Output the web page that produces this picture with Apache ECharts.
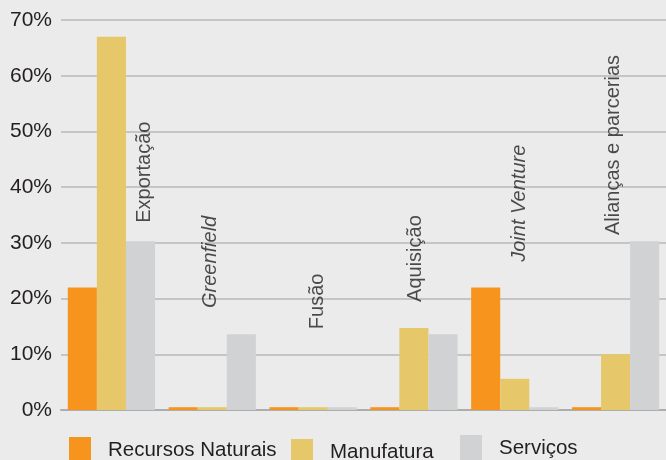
<!DOCTYPE html>
<html>
<head>
<meta charset="utf-8">
<script src="https://cdn.jsdelivr.net/npm/echarts@6/dist/echarts.min.js"></script>
<style>
html,body{margin:0;padding:0;background:#ebebeb;}
#chart{width:666px;height:460px;}
</style>
</head>
<body>
<div id="chart"></div>
<script>
// ---- data ----
const categories = ['Exportação', 'Greenfield', 'Fusão', 'Aquisição', 'Joint Venture', 'Alianças e parcerias'];
const seriesNames = ['Recursos Naturais', 'Manufatura', 'Serviços'];
const recursosNaturais = [22, 0.5, 0.5, 0.5, 22, 0.5];
const manufatura = [67, 0.5, 0.5, 14.7, 5.6, 10];
const servicos = [30.3, 13.6, 0.5, 13.6, 0.5, 30.3];
const yTicks = [0, 10, 20, 30, 40, 50, 60, 70];

// ---- label placement (value units) ----
const labelX = [0.33, -0.02, 0.04, 0.02, 0.05, -0.02];
const labelY = [33.6, 18.3, 14.5, 19.4, 26.6, 31.4];
const italicLabels = [false, true, false, false, true, false];

const colors = ['#F7941D', '#E6C76A', '#D1D2D4'];
const fontFamily = '"Liberation Sans", Arial, sans-serif';
const textColor = '#231F20';

const chart = echarts.init(document.getElementById('chart'));

const labelData = categories.map((c, i) => ({
  value: [i + labelX[i], labelY[i]],
  name: c,
  label: { fontStyle: italicLabels[i] ? 'italic' : 'normal' }
}));

const legendBase = {
  icon: 'rect',
  itemWidth: 22,
  itemHeight: 26,
  padding: 0,
  selectedMode: false,
  textStyle: { fontSize: 20.5, color: textColor, fontFamily: fontFamily, padding: [0, 0, 0, 12] }
};

chart.setOption({
  backgroundColor: '#ebebeb',
  animation: false,
  color: colors,
  grid: { left: 61, right: 0, top: 20, bottom: 50, containLabel: false },
  legend: [
    Object.assign({}, legendBase, { left: 69, top: 437, data: [seriesNames[0]] }),
    Object.assign({}, legendBase, { left: 291, top: 439, data: [seriesNames[1]] }),
    Object.assign({}, legendBase, { left: 460, top: 435, data: [seriesNames[2]] })
  ],
  xAxis: [
    {
      type: 'category',
      data: categories,
      axisLine: { show: true, lineStyle: { color: '#adadad', width: 2 } },
      axisTick: { show: false },
      axisLabel: { show: false }
    },
    {
      type: 'value',
      min: -0.5,
      max: 5.5,
      show: false
    }
  ],
  yAxis: {
    type: 'value',
    min: yTicks[0],
    max: yTicks[yTicks.length - 1],
    interval: 10,
    axisLine: { show: false },
    axisTick: { show: false },
    axisLabel: {
      formatter: '{value}%',
      fontSize: 21,
      color: textColor,
      fontFamily: fontFamily,
      margin: 9
    },
    splitLine: { lineStyle: { color: '#b9b9b9', width: 1.5 } }
  },
  series: [
    { name: seriesNames[0], type: 'bar', data: recursosNaturais, barGap: '0%', barCategoryGap: '13.5%', itemStyle: { color: colors[0] } },
    { name: seriesNames[1], type: 'bar', data: manufatura, barGap: '0%', barCategoryGap: '13.5%', itemStyle: { color: colors[1] } },
    { name: seriesNames[2], type: 'bar', data: servicos, barGap: '0%', barCategoryGap: '13.5%', itemStyle: { color: colors[2] } },
    {
      type: 'scatter',
      xAxisIndex: 1,
      symbolSize: 0,
      silent: true,
      data: labelData,
      label: {
        show: true,
        position: 'inside',
        rotate: 90,
        align: 'left',
        verticalAlign: 'middle',
        fontSize: 20,
        color: textColor,
        fontFamily: fontFamily,
        formatter: p => p.name
      }
    }
  ]
});
</script>
</body>
</html>
